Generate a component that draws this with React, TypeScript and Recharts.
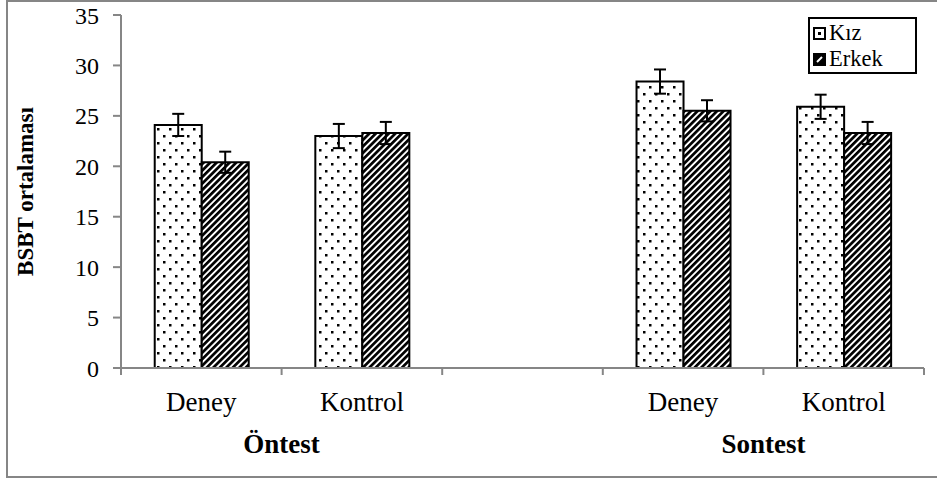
import React from 'react';
import { BarChart, Bar, XAxis, YAxis, ErrorBar, Legend } from 'recharts';

const categories = ['Deney', 'Kontrol', '', 'Deney', 'Kontrol'];
const groups = ['Öntest', '', '', 'Sontest', ''];
const kiz = [24.1, 23.0, null, 28.4, 25.9];
const kizErr = [1.1, 1.2, null, 1.2, 1.2];
const erkek = [20.4, 23.3, null, 25.5, 23.3];
const erkekErr = [1.05, 1.1, null, 1.05, 1.1];
const yTicks = [0, 5, 10, 15, 20, 25, 30, 35];
const seriesNames = ['Kız', 'Erkek'];
const yTitle = 'BSBT ortalaması';

const data = categories.map((c, i) => ({
  cat: c,
  kiz: kiz[i],
  kizErr: kizErr[i],
  erkek: erkek[i],
  erkekErr: erkekErr[i],
}));

const FONT = '"Liberation Serif", "Times New Roman", serif';
const AXIS_GRAY = '#868686';

const CatTick = (props: any) => {
  const { x, y, payload, index, width } = props;
  const idx = payload?.index ?? index;
  const half = payload?.offset ? payload.offset : (width || 803) / categories.length / 2;
  const g = groups[idx];
  return (
    <g>
      <line x1={x - half} x2={x - half} y1={y} y2={y + 7} stroke={AXIS_GRAY} strokeWidth={2} />
      {idx === categories.length - 1 && (
        <line x1={x + half} x2={x + half} y1={y} y2={y + 7} stroke={AXIS_GRAY} strokeWidth={2} />
      )}
      <text x={x} y={y + 43} textAnchor="middle" fontFamily={FONT} fontSize={27} fill="#000">
        {payload.value}
      </text>
      {g && (
        <text x={x + half} y={y + 85} textAnchor="middle" fontFamily={FONT} fontSize={27} fontWeight="bold" fill="#000">
          {g}
        </text>
      )}
    </g>
  );
};

const YLabel = (props: any) => {
  const vb = props.viewBox || {};
  const cx = (vb.x || 0) + 25;
  const cy = (vb.y || 0) + (vb.height || 0) / 2;
  return (
    <text
      x={cx}
      y={cy}
      transform={`rotate(-90, ${cx}, ${cy})`}
      textAnchor="middle"
      dominantBaseline="central"
      fontFamily={FONT}
      fontSize={23}
      fontWeight="bold"
      fill="#000"
    >
      {yTitle}
    </text>
  );
};

const LegendIcon = ({ kind }: { kind: number }) => (
  <svg width={13} height={13} style={{ marginRight: 3, flex: 'none' }}>
    {kind === 0 ? (
      <g>
        <rect x={1} y={1} width={11} height={11} fill="#fff" stroke="#000" strokeWidth={2} />
        <rect x={5} y={5} width={3} height={3} fill="#000" />
      </g>
    ) : (
      <g>
        <rect x={1} y={1} width={11} height={11} fill="#000" stroke="#000" strokeWidth={2} />
        <line x1={4} y1={9} x2={9} y2={4} stroke="#fff" strokeWidth={2} />
      </g>
    )}
  </svg>
);

const LegendContent = () => (
  <div
    style={{
      border: '2px solid #000',
      background: '#fff',
      width: 109,
      height: 57,
      boxSizing: 'border-box',
      padding: '1px 3px',
      fontFamily: FONT,
      fontSize: 22.5,
      lineHeight: '26px',
      color: '#000',
    }}
  >
    {seriesNames.map((n, i) => (
      <div key={n} style={{ display: 'flex', alignItems: 'center', height: 26 }}>
        <LegendIcon kind={i} />
        <span>{n}</span>
      </div>
    ))}
  </div>
);

export default function App() {
  return (
    <div style={{ position: 'absolute', left: 0, top: 0, width: 937, height: 479, background: '#fff', overflow: 'hidden' }}>
      <div
        style={{
          position: 'absolute',
          left: 6,
          top: 0,
          width: 940,
          height: 478,
          border: `2px solid ${AXIS_GRAY}`,
          boxSizing: 'border-box',
        }}
      />
      <div style={{ position: 'absolute', left: 0, top: 0 }}>
        <BarChart
          width={937}
          height={479}
          data={data}
          margin={{ top: 15, right: 13, left: 0, bottom: 11 }}
          barGap={0}
          barCategoryGap="21%"
        >
          <defs>
            <pattern id="dotsPat" patternUnits="userSpaceOnUse" width={12} height={14}>
              <rect width={12} height={14} fill="#fff" />
              <rect x={1} y={2} width={2.5} height={2.5} fill="#000" />
              <rect x={7} y={9} width={2.5} height={2.5} fill="#000" />
            </pattern>
            <pattern id="stripePat" patternUnits="userSpaceOnUse" width={4.6} height={10} patternTransform="rotate(45)">
              <rect width={4.6} height={10} fill="#fff" />
              <rect width={2.7} height={10} fill="#000" />
            </pattern>
          </defs>
          <XAxis
            dataKey="cat"
            height={100}
            interval={0}
            tickSize={0}
            tickMargin={0}
            tickLine={false}
            axisLine={{ stroke: AXIS_GRAY, strokeWidth: 2 }}
            tick={<CatTick />}
          />
          <XAxis xAxisId="top" dataKey="cat" orientation="top" height={0} tick={false} tickLine={false} axisLine={{ stroke: '#000', strokeWidth: 2 }} />
          <YAxis
            domain={[0, 35]}
            ticks={yTicks}
            width={121}
            interval={0}
            tickSize={8}
            tickMargin={14}
            tickLine={{ stroke: AXIS_GRAY, strokeWidth: 2 }}
            axisLine={{ stroke: AXIS_GRAY, strokeWidth: 2 }}
            tick={{ fontFamily: FONT, fontSize: 24, fill: '#000' }}
            label={<YLabel />}
          />
          <YAxis yAxisId="right" orientation="right" domain={[0, 35]} width={0} tick={false} tickLine={false} axisLine={{ stroke: '#000', strokeWidth: 2 }} />
          <Legend
            layout="vertical"
            align="center"
            verticalAlign="middle"
            content={<LegendContent />}
            wrapperStyle={{ position: 'absolute', left: 808, top: 17, width: 109, height: 57 }}
          />
          <Bar dataKey="kiz" name="Kız" fill="url(#dotsPat)" stroke="#000" strokeWidth={2} isAnimationActive={false}>
            <ErrorBar dataKey="kizErr" width={6} stroke="#000" strokeWidth={2} isAnimationActive={false} />
          </Bar>
          <Bar dataKey="erkek" name="Erkek" fill="url(#stripePat)" stroke="#000" strokeWidth={2} isAnimationActive={false}>
            <ErrorBar dataKey="erkekErr" width={6} stroke="#000" strokeWidth={2} isAnimationActive={false} />
          </Bar>
        </BarChart>
      </div>
    </div>
  );
}
